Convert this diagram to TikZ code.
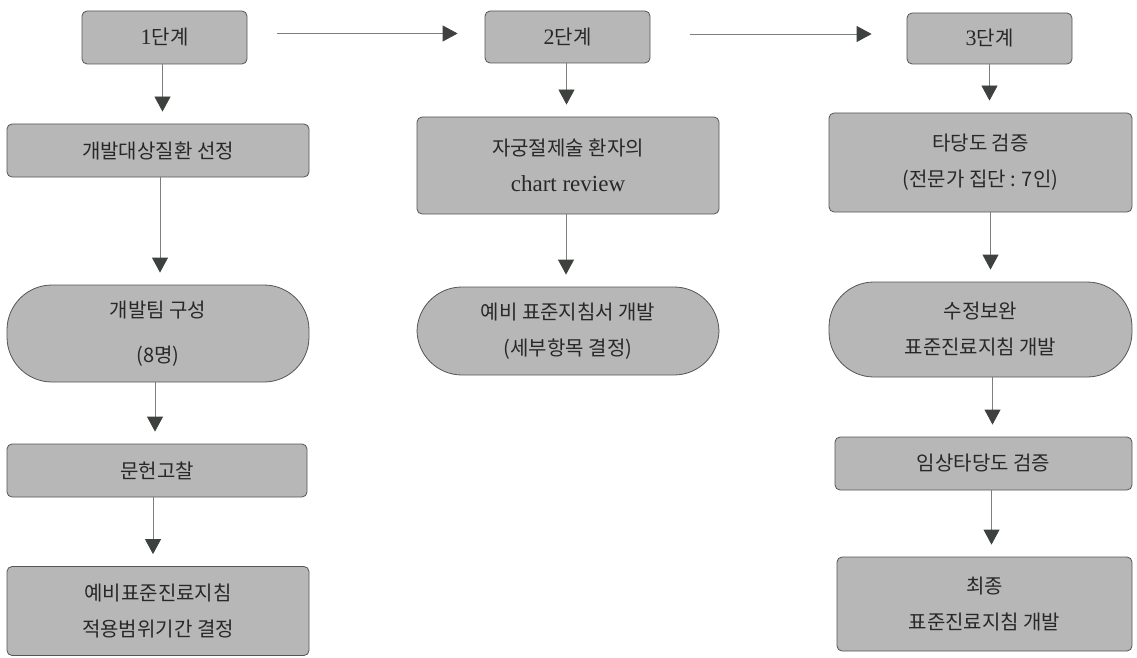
\documentclass[tikz,border=0pt]{standalone}
\usepackage{fontspec}
\setmainfont{Noto Sans CJK KR}
\newfontfamily\latserif{Liberation Serif}
\usetikzlibrary{arrows.meta}
\definecolor{boxfill}{RGB}{183,183,183}
\definecolor{boxline}{RGB}{85,85,85}
\definecolor{arrline}{RGB}{125,125,125}
\definecolor{arrhead}{RGB}{62,66,62}
\definecolor{txt}{RGB}{40,40,40}
\begin{document}
\begin{tikzpicture}[x=1pt,y=-1pt,
  box/.style={draw=boxline,fill=boxfill,line width=0.8pt,rounded corners=5pt,
    inner sep=0pt,align=center,text=txt,font=\fontsize{20}{36}\selectfont},
  pill/.style={box,rounded corners=45pt},
  conn/.style={draw=arrline,line width=0.8pt,
    -{Triangle[length=15pt,width=16pt,color=arrhead]},shorten >=12pt}]
\useasboundingbox (0,0) rectangle (1137,658);

% stage headers
\node[box,minimum width=165pt,minimum height=53pt] (s1) at (164.5,37.5) {{\latserif\fontsize{22}{36}\selectfont 1}단계};
\node[box,minimum width=165pt,minimum height=52pt] (s2) at (567.5,37) {{\latserif\fontsize{22}{36}\selectfont 2}단계};
\node[box,minimum width=165pt,minimum height=51pt] (s3) at (989.5,38.5) {{\latserif\fontsize{22}{36}\selectfont 3}단계};

% column 1
\node[box,minimum width=302pt,minimum height=53pt] (a1) at (158,150.5) {개발대상질환 선정};
\node[pill,minimum width=302pt,minimum height=97pt] (a2) at (158,333.5) {개발팀 구성\\[9pt](8명)};
\node[box,minimum width=300pt,minimum height=53pt] (a3) at (157,470.5) {문헌고찰};
\node[box,minimum width=302pt,minimum height=89pt] (a4) at (158,611) {예비표준진료지침\\적용범위기간 결정};

% column 2
\node[box,minimum width=302pt,minimum height=97pt] (b1) at (568,165.5) {자궁절제술 환자의\\{\latserif\fontsize{23}{36}\selectfont chart review}};
\node[pill,minimum width=302pt,minimum height=88pt] (b2) at (568,331) {예비 표준지침서 개발\\(세부항목 결정)};

% column 3
\node[box,minimum width=303pt,minimum height=99pt] (c1) at (980.5,162.5) {타당도 검증\\(전문가 집단 : 7인)};
\node[pill,minimum width=303pt,minimum height=95pt] (c2) at (980.5,329.5) {수정보완\\표준진료지침 개발};
\node[box,minimum width=297pt,minimum height=53pt] (c3) at (983.5,463.5) {임상타당도 검증};
\node[box,minimum width=295pt,minimum height=94pt] (c4) at (984.5,604) {최종\\표준진료지침 개발};

% horizontal arrows
\draw[conn,shorten <=30pt,shorten >=27pt] ([yshift=4pt]s1.east) -- ([yshift=4pt]s1.east -| s2.west);
\draw[conn,shorten <=40pt,shorten >=35pt] ([yshift=3pt]s2.east) -- ([yshift=3pt]s2.east -| s3.west);

% vertical arrows
\draw[conn] ([xshift=-2pt]s1.south) -- ([xshift=-2pt]s1.south |- a1.north);
\draw[conn] ([xshift=2pt]a1.south) -- ([xshift=2pt]a1.south |- a2.north);
\draw[conn] ([xshift=-3pt]a2.south) -- ([xshift=-3pt]a2.south |- a3.north);
\draw[conn] ([xshift=-4pt]a3.south) -- ([xshift=-4pt]a3.south |- a4.north);

\draw[conn] ([xshift=-1pt]s2.south) -- ([xshift=-1pt]s2.south |- b1.north);
\draw[conn] ([xshift=-2pt]b1.south) -- ([xshift=-2pt]b1.south |- b2.north);

\draw[conn] (s3.south) -- (s3.south |- c1.north);
\draw[conn] ([xshift=10pt]c1.south) -- ([xshift=10pt]c1.south |- c2.north);
\draw[conn] ([xshift=12pt]c2.south) -- ([xshift=12pt]c2.south |- c3.north);
\draw[conn] ([xshift=8pt]c3.south) -- ([xshift=8pt]c3.south |- c4.north);
\end{tikzpicture}
\end{document}
